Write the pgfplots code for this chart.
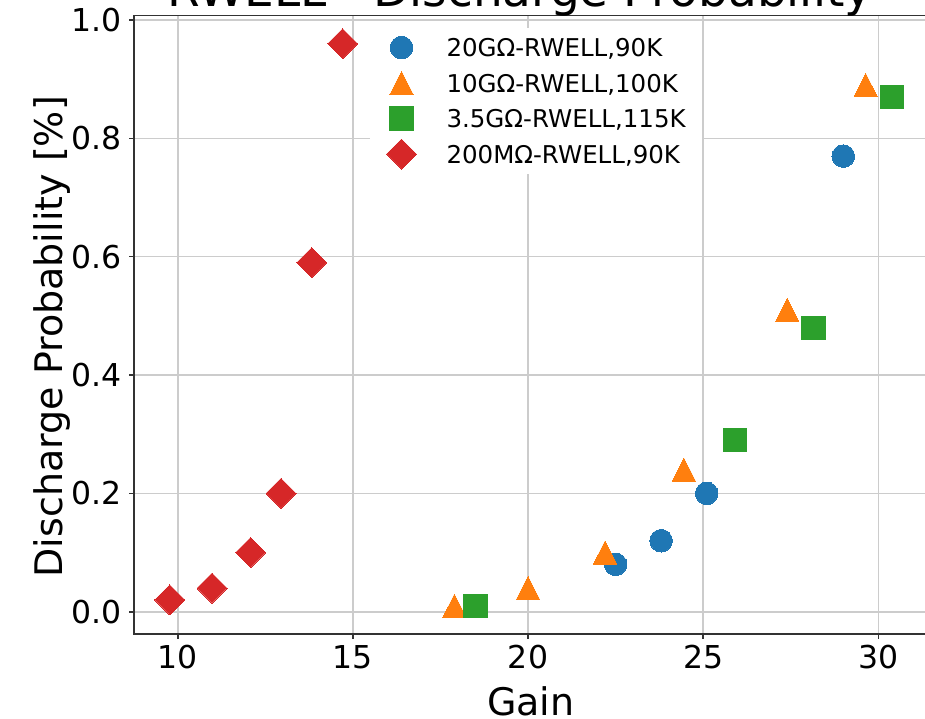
\documentclass[border=0pt]{standalone}
\usepackage{fontspec}
\setmainfont{DejaVu Sans}
\usepackage{pgfplots}
\pgfplotsset{compat=1.18}
\definecolor{tabblue}{HTML}{1F77B4}
\definecolor{taborange}{HTML}{FF7F0E}
\definecolor{tabgreen}{HTML}{2CA02C}
\definecolor{tabred}{HTML}{D62728}
\definecolor{gridgray}{RGB}{204,204,204}
\pgfplotsset{
  mylegend/.style={legend image code/.code={%
    \path[draw=none,fill=none] (-16pt,-17.75pt) rectangle (16pt,17.75pt);
    \draw[mark repeat=1,##1] plot coordinates {(0pt,0pt)};}},
}
\begin{document}
\begin{tikzpicture}
\begin{axis}[
  at={(134pt,85.1pt)}, anchor=south west,
  scale only axis, width=793.7pt, height=618.3pt,
  xmin=8.7525, xmax=31.41, ymin=-0.0375, ymax=1.0075,
  xtick={10,15,20,25,30}, ytick={0,0.2,0.4,0.6,0.8,1.0},
  tick align=outside, major tick length=5pt,
  xtick pos=bottom, ytick pos=left,
  tick style={black!80, line width=1.6pt},
  axis line style={black!80, line width=1.6pt},
  grid=major, major grid style={gridgray, line width=1.6pt},
  /pgf/number format/assume math mode=true,
  tick label style={font=\fontsize{31.5}{36}\selectfont},
  yticklabel style={/pgf/number format/fixed, /pgf/number format/fixed zerofill, /pgf/number format/precision=1, anchor=east, inner sep=0pt, xshift=-7pt},
  xticklabel style={anchor=north, inner sep=0pt, yshift=-6pt},
  title={RWELL - Discharge Probability},
  title style={at={(axis description cs:0.486,1.0049)}, anchor=base, yshift=0pt, inner sep=0pt, font=\fontsize{47}{52}\selectfont},
  xlabel={Gain},
  xlabel style={at={(axis description cs:0.5,0)}, anchor=north, inner sep=0pt, yshift=-53pt, font=\fontsize{38}{44}\selectfont},
  ylabel={Discharge Probability [\%]},
  ylabel style={at={(axis description cs:-0.0905,0.4806)}, anchor=base, inner sep=0pt, font=\fontsize{38}{44}\selectfont},
  legend style={at={(axis description cs:0.2965,0.9806)}, anchor=north west, draw=none, fill=white,
    inner xsep=16pt, inner ysep=2pt, column sep=29pt, row sep=0pt,
    nodes={inner sep=0pt, text depth=0pt}, font=\fontsize{24.5}{28}\selectfont},
  legend cell align=left,
]
\addplot[only marks, mark=*, mark size=11.3pt, color=tabblue, mark options={line width=0pt}, mylegend]
  coordinates {(22.5,0.08) (23.8,0.12) (25.1,0.20) (29.0,0.77)};
\addlegendentry{20GΩ-RWELL,90K}
\addplot[only marks, mark=triangle*, mark size=13.45pt, color=taborange, mark options={line width=0pt, yshift=-3.8pt, yscale=1.14}, mylegend]
  coordinates {(17.9,0.01) (20.0,0.04) (22.2,0.10) (24.45,0.24) (27.4,0.51) (29.64,0.89)};
\addlegendentry{10GΩ-RWELL,100K}
\addplot[only marks, mark=square*, mark size=11.6pt, color=tabgreen, mark options={line width=0pt}, mylegend]
  coordinates {(18.5,0.01) (25.9,0.29) (28.15,0.48) (30.38,0.87)};
\addlegendentry{3.5GΩ-RWELL,115K}
\addplot[only marks, mark=square*, mark size=10.6pt, color=tabred, mark options={line width=0pt, rotate=45}, mylegend]
  coordinates {(9.77,0.02) (10.98,0.04) (12.08,0.10) (12.95,0.20) (13.83,0.59) (14.71,0.96)};
\addlegendentry{200MΩ-RWELL,90K}
\end{axis}
\pgfresetboundingbox
\useasboundingbox (0,0) rectangle (925pt,719pt);
\end{tikzpicture}
\end{document}
